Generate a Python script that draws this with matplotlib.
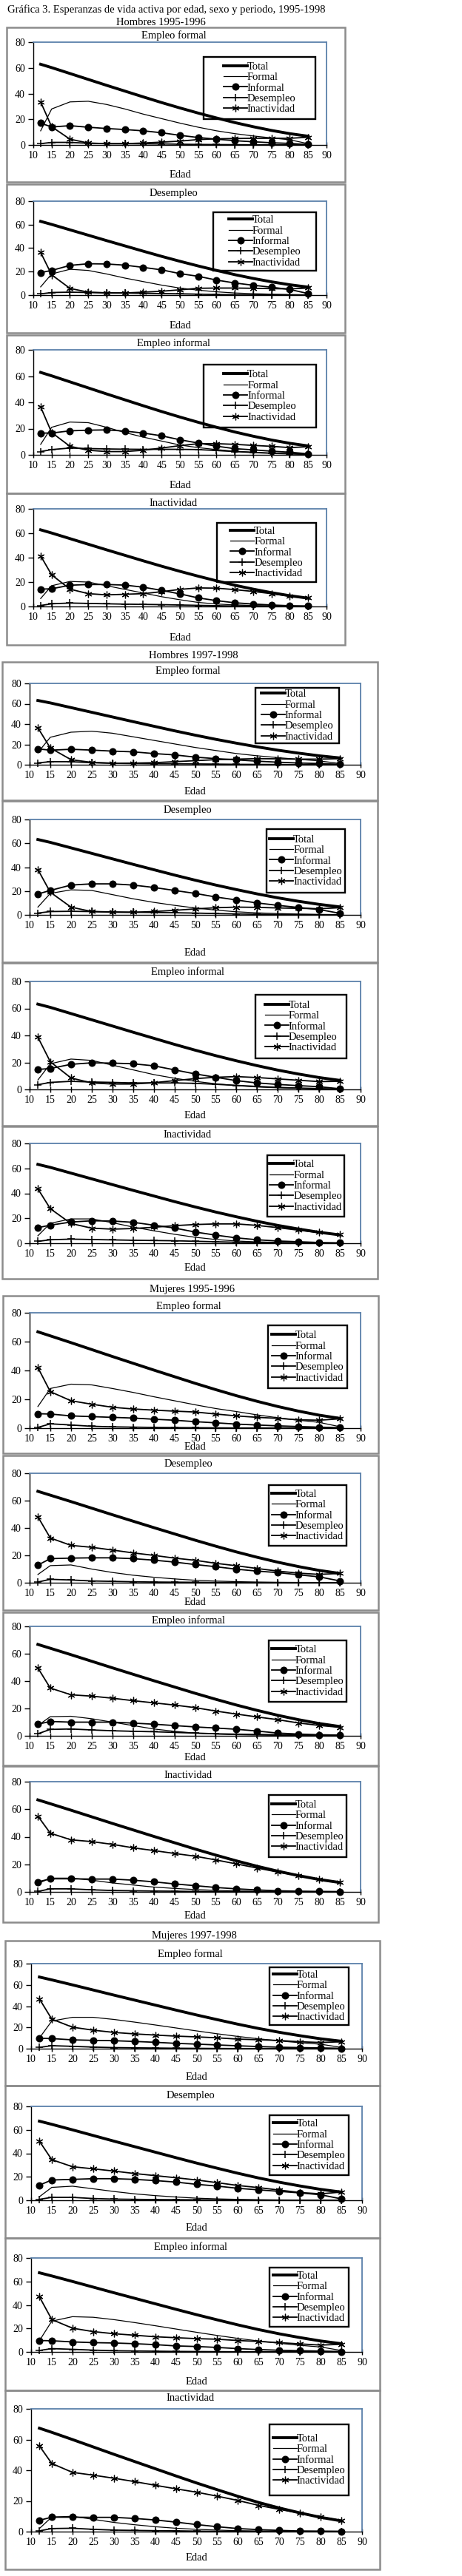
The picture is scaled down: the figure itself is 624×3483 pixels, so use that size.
import matplotlib
matplotlib.use('Agg')
import matplotlib.pyplot as plt
from matplotlib.patches import Rectangle

plt.rcParams['font.family'] = ['Liberation Serif', 'DejaVu Serif']

edad = [12, 15, 20, 25, 30, 35, 40, 45, 50, 55, 60, 65, 70, 75, 80, 85]
series_labels = ['Total', 'Formal', 'Informal', 'Desempleo', 'Inactividad']
panel_titles = ['Empleo formal', 'Desempleo', 'Empleo informal', 'Inactividad']
block_titles = ['Hombres 1995-1996', 'Hombres 1997-1998', 'Mujeres 1995-1996', 'Mujeres 1997-1998']

# total life expectancy per block
tot_h95 = [62.8, 60.2, 55.6, 51.0, 46.4, 41.9, 37.4, 33.0, 28.8, 24.8, 21.0, 17.4, 14.2, 11.3, 8.8, 6.8]
tot_h97 = [63.2, 60.8, 56.2, 51.6, 47.0, 42.4, 37.9, 33.4, 29.1, 25.0, 21.2, 17.6, 14.3, 11.4, 8.8, 6.7]
tot_m95 = [66.8, 64.0, 59.3, 54.5, 49.7, 45.0, 40.3, 35.7, 31.1, 26.7, 22.5, 18.6, 15.0, 11.8, 9.0, 6.8]
tot_m97 = [67.4, 64.7, 60.0, 55.2, 50.4, 45.7, 41.0, 36.3, 31.7, 27.3, 23.0, 19.0, 15.4, 12.2, 9.3, 7.0]

# Hombres 1995-1996
p1_formal = [11.0, 28.0, 33.5, 34.0, 31.5, 28.0, 24.0, 20.5, 17.0, 13.8, 11.0, 8.8, 7.0, 5.5, 4.0, 1.0]
p1_informal = [17.0, 14.0, 15.0, 13.8, 12.8, 12.0, 11.0, 9.5, 7.5, 5.8, 4.5, 3.3, 2.5, 1.7, 1.2, 0.3]
p1_desemp = [1.0, 2.0, 2.0, 1.3, 1.0, 1.0, 0.9, 0.8, 0.6, 0.4, 0.3, 0.2, 0.1, 0.1, 0.1, 0.1]
p1_inact = [33.5, 14.2, 4.5, 1.5, 1.0, 1.0, 1.5, 2.2, 3.0, 4.2, 4.8, 5.0, 5.2, 5.2, 5.2, 6.0]

p2_formal = [7.0, 18.0, 22.0, 21.0, 18.0, 14.5, 11.5, 8.5, 6.0, 4.2, 2.8, 1.8, 1.2, 0.8, 0.5, 0.2]
p2_informal = [19.2, 21.0, 25.3, 26.7, 26.5, 25.5, 23.6, 21.5, 18.3, 16.0, 12.8, 10.3, 8.4, 6.7, 4.8, 1.3]
p2_desemp = [1.0, 2.2, 2.5, 2.2, 2.0, 1.8, 1.5, 1.3, 1.1, 0.8, 0.5, 0.3, 0.2, 0.1, 0.1, 0.1]
p2_inact = [36.4, 17.3, 5.7, 2.5, 1.8, 1.8, 2.5, 3.3, 4.5, 5.8, 6.0, 6.0, 5.8, 5.5, 5.3, 6.0]

p3_formal = [8.0, 21.0, 25.0, 24.5, 21.0, 17.0, 13.5, 10.5, 7.5, 5.5, 4.0, 2.8, 2.0, 1.3, 0.8, 0.3]
p3_informal = [16.6, 16.6, 18.3, 18.8, 19.0, 18.1, 16.6, 14.5, 11.5, 9.0, 6.6, 4.7, 3.8, 2.8, 2.0, 0.8]
p3_desemp = [2.5, 4.0, 5.2, 4.8, 4.5, 4.3, 4.2, 4.2, 4.2, 4.0, 3.3, 2.5, 1.8, 1.2, 0.8, 0.3]
p3_inact = [36.5, 17.0, 6.5, 3.5, 2.5, 2.5, 3.5, 5.2, 7.0, 8.5, 8.5, 8.0, 7.2, 6.5, 5.5, 6.2]

p4_formal = [6.5, 17.0, 20.5, 20.0, 17.0, 14.0, 11.0, 8.0, 5.5, 3.3, 2.0, 1.3, 0.8, 0.5, 0.3, 0.1]
p4_informal = [14.2, 14.5, 17.4, 18.0, 18.0, 17.5, 15.8, 13.2, 10.3, 7.0, 4.8, 3.0, 2.0, 1.2, 0.6, 0.4]
p4_desemp = [0.8, 2.2, 2.8, 2.5, 2.2, 1.9, 1.7, 1.5, 1.2, 0.9, 0.6, 0.4, 0.3, 0.2, 0.1, 0.1]
p4_inact = [41.5, 25.9, 14.2, 10.5, 9.5, 10.0, 10.5, 12.1, 14.0, 15.2, 15.0, 13.8, 12.3, 10.5, 8.5, 7.0]

# Hombres 1997-1998
p5_formal = [12.0, 27.0, 32.0, 33.0, 31.0, 27.5, 24.0, 20.5, 17.0, 14.0, 11.0, 8.8, 7.0, 5.3, 3.8, 1.2]
p5_informal = [15.6, 14.3, 15.2, 14.4, 13.4, 12.7, 11.0, 9.7, 7.5, 6.0, 4.8, 3.5, 2.5, 1.7, 1.2, 0.4]
p5_desemp = [1.8, 3.0, 3.0, 2.0, 1.5, 1.2, 1.0, 0.9, 0.8, 0.6, 0.4, 0.3, 0.2, 0.1, 0.1, 0.1]
p5_inact = [36.3, 16.5, 5.0, 2.3, 1.5, 1.6, 2.0, 3.0, 4.0, 5.0, 5.5, 6.0, 5.8, 5.5, 5.5, 6.0]

p6_formal = [6.5, 18.0, 21.0, 20.5, 17.0, 13.5, 10.5, 8.0, 5.8, 4.0, 2.6, 1.7, 1.1, 0.7, 0.4, 0.2]
p6_informal = [17.5, 20.5, 25.0, 26.0, 26.0, 25.0, 23.0, 20.5, 18.0, 15.0, 12.5, 10.0, 8.0, 6.2, 4.5, 1.3]
p6_desemp = [1.5, 2.8, 3.0, 2.8, 2.5, 2.2, 2.0, 1.8, 1.5, 1.1, 0.8, 0.5, 0.3, 0.2, 0.1, 0.1]
p6_inact = [38.0, 19.0, 6.5, 2.8, 2.2, 2.2, 2.8, 3.8, 5.0, 6.0, 6.5, 6.3, 5.8, 5.5, 5.2, 6.0]

p7_formal = [7.0, 19.0, 22.5, 21.5, 18.0, 14.5, 11.0, 8.3, 6.0, 4.2, 2.8, 1.8, 1.2, 0.8, 0.5, 0.2]
p7_informal = [14.8, 15.5, 18.6, 19.7, 19.5, 19.0, 17.5, 14.5, 11.5, 9.0, 6.5, 4.8, 3.7, 2.8, 2.0, 0.5]
p7_desemp = [3.5, 5.2, 6.0, 5.5, 5.2, 4.8, 4.8, 4.8, 4.5, 3.8, 3.0, 2.2, 1.5, 1.0, 0.6, 0.2]
p7_inact = [38.7, 20.5, 8.5, 4.8, 4.0, 4.0, 5.0, 6.5, 8.0, 9.0, 9.5, 8.8, 7.8, 6.8, 5.8, 6.0]

p8_formal = [6.0, 16.0, 19.5, 19.5, 16.5, 13.0, 10.0, 7.2, 4.8, 3.0, 1.8, 1.1, 0.7, 0.4, 0.2, 0.1]
p8_informal = [12.5, 14.5, 17.0, 18.0, 17.8, 16.8, 14.5, 12.2, 9.0, 6.5, 4.3, 2.8, 1.8, 1.2, 0.6, 0.3]
p8_desemp = [1.5, 2.8, 3.3, 3.0, 2.7, 2.4, 2.2, 2.0, 1.6, 1.2, 0.8, 0.5, 0.3, 0.2, 0.1, 0.1]
p8_inact = [43.6, 27.7, 15.8, 12.1, 11.3, 11.8, 12.8, 14.1, 15.0, 15.5, 15.5, 14.3, 12.5, 10.5, 8.6, 7.0]

# Mujeres 1995-1996
p9_formal = [15.0, 27.5, 30.5, 30.0, 27.5, 24.8, 21.8, 19.0, 16.2, 13.6, 11.5, 9.2, 7.2, 5.5, 4.0, 1.0]
p9_informal = [10.0, 9.8, 8.5, 8.0, 7.5, 7.0, 6.2, 5.5, 4.5, 3.7, 2.8, 2.2, 1.6, 1.1, 0.7, 0.3]
p9_desemp = [0.5, 3.0, 2.2, 1.3, 0.9, 0.7, 0.5, 0.4, 0.3, 0.2, 0.1, 0.1, 0.1, 0.1, 0.1, 0.1]
p9_inact = [42.0, 25.3, 19.0, 16.6, 14.5, 13.3, 12.5, 11.8, 11.2, 9.8, 8.5, 7.5, 6.8, 5.8, 5.5, 6.5]

p10_formal = [6.0, 12.5, 13.0, 10.0, 7.5, 5.5, 4.0, 2.8, 1.8, 1.2, 0.8, 0.5, 0.3, 0.2, 0.1, 0.1]
p10_informal = [12.9, 17.6, 18.0, 18.2, 18.2, 17.6, 16.5, 15.1, 13.3, 11.7, 9.9, 8.5, 7.4, 5.8, 4.3, 1.3]
p10_desemp = [0.5, 2.5, 2.0, 1.3, 1.0, 0.7, 0.5, 0.4, 0.3, 0.2, 0.1, 0.1, 0.1, 0.1, 0.1, 0.1]
p10_inact = [48.2, 32.7, 27.3, 25.9, 23.9, 21.8, 20.0, 18.0, 16.4, 14.2, 12.4, 10.4, 8.5, 7.0, 6.1, 6.8]

p11_formal = [7.5, 14.0, 14.3, 12.5, 10.0, 7.5, 5.0, 3.3, 2.0, 1.3, 0.8, 0.5, 0.3, 0.2, 0.1, 0.1]
p11_informal = [8.5, 10.5, 10.0, 10.0, 10.0, 9.3, 8.5, 7.5, 6.5, 5.7, 4.8, 3.5, 2.0, 1.3, 0.8, 0.5]
p11_desemp = [1.5, 4.7, 5.0, 4.3, 3.7, 3.3, 3.0, 2.5, 2.0, 1.5, 1.2, 1.0, 0.8, 0.6, 0.5, 0.3]
p11_inact = [49.6, 34.9, 30.0, 29.0, 27.5, 25.7, 24.1, 22.5, 20.6, 18.1, 15.9, 13.8, 11.8, 9.4, 7.6, 6.2]

p12_formal = [6.0, 10.0, 10.0, 8.5, 6.5, 5.0, 3.5, 2.5, 1.7, 1.1, 0.7, 0.4, 0.3, 0.2, 0.1, 0.1]
p12_informal = [7.2, 9.5, 9.5, 9.3, 9.3, 8.5, 7.3, 5.8, 4.5, 3.2, 2.2, 1.4, 0.8, 0.5, 0.3, 0.2]
p12_desemp = [0.3, 2.2, 2.2, 1.5, 1.0, 0.8, 0.6, 0.5, 0.3, 0.2, 0.1, 0.1, 0.1, 0.1, 0.1, 0.1]
p12_inact = [55.0, 42.6, 37.8, 36.5, 34.5, 32.0, 30.0, 27.9, 25.9, 23.2, 20.3, 17.3, 14.4, 11.9, 9.0, 7.0]

# Mujeres 1997-1998
p13_formal = [10.0, 26.0, 29.5, 29.5, 27.5, 25.0, 22.3, 19.5, 16.7, 14.0, 11.5, 9.3, 7.3, 5.6, 4.2, 1.2]
p13_informal = [9.8, 9.5, 8.3, 7.8, 7.5, 6.8, 6.0, 5.0, 4.3, 3.5, 2.7, 2.0, 1.4, 1.0, 0.7, 0.3]
p13_desemp = [1.2, 2.8, 2.2, 1.5, 1.0, 0.8, 0.6, 0.4, 0.3, 0.2, 0.1, 0.1, 0.1, 0.1, 0.1, 0.1]
p13_inact = [46.9, 27.8, 20.2, 17.4, 15.3, 13.9, 12.8, 11.8, 11.1, 10.2, 9.0, 8.4, 7.7, 6.5, 5.8, 6.5]

p14_formal = [3.0, 11.0, 12.0, 9.8, 7.5, 5.5, 4.0, 2.8, 1.8, 1.2, 0.8, 0.5, 0.3, 0.2, 0.1, 0.1]
p14_informal = [12.9, 17.3, 17.8, 18.4, 18.4, 17.8, 16.8, 15.5, 13.6, 12.1, 10.2, 8.9, 7.6, 6.3, 4.7, 1.2]
p14_desemp = [0.8, 2.5, 2.5, 1.5, 1.0, 0.8, 0.6, 0.5, 0.4, 0.3, 0.2, 0.1, 0.1, 0.1, 0.1, 0.1]
p14_inact = [50.4, 34.6, 28.6, 26.8, 24.9, 22.8, 21.0, 19.2, 17.3, 15.0, 12.6, 10.8, 8.7, 6.6, 5.5, 7.0]

p15_formal = [9.5, 26.2, 30.0, 29.5, 27.5, 25.0, 22.3, 19.5, 16.7, 14.0, 11.5, 9.3, 7.3, 5.6, 4.2, 1.2]
p15_informal = [9.7, 9.5, 8.5, 7.9, 7.6, 7.0, 6.2, 5.1, 4.6, 3.8, 2.8, 2.0, 1.4, 1.0, 0.7, 0.3]
p15_desemp = [1.2, 2.8, 2.2, 1.5, 1.0, 0.8, 0.6, 0.4, 0.3, 0.2, 0.1, 0.1, 0.1, 0.1, 0.1, 0.1]
p15_inact = [47.0, 27.6, 20.2, 17.3, 15.5, 14.2, 12.9, 12.1, 11.3, 10.8, 9.7, 8.9, 7.9, 6.8, 5.8, 6.5]

p16_formal = [2.0, 9.5, 10.0, 8.0, 6.0, 4.5, 3.2, 2.2, 1.5, 1.0, 0.6, 0.4, 0.3, 0.2, 0.1, 0.1]
p16_informal = [7.4, 9.4, 9.4, 9.3, 9.3, 8.6, 7.6, 6.2, 4.6, 3.2, 2.0, 1.3, 0.8, 0.4, 0.3, 0.2]
p16_desemp = [0.5, 2.0, 2.2, 1.5, 1.0, 0.8, 0.6, 0.5, 0.3, 0.2, 0.1, 0.1, 0.1, 0.1, 0.1, 0.1]
p16_inact = [55.9, 44.4, 38.6, 36.8, 34.8, 32.6, 30.2, 27.9, 25.7, 23.1, 20.3, 17.1, 14.5, 12.1, 9.6, 7.2]

W, H = 624, 3483
fig = plt.figure(figsize=(W / 100, H / 100), dpi=100)
fig.patch.set_facecolor('white')

GRAY = '#8c8c8c'
BLUE = '#5b80aa'


def fx(x):
    return x / W


def fy(y):
    return 1 - y / H


def frame(x0, y0, x1, y1, color, lw):
    fig.add_artist(Rectangle((fx(x0), fy(y1)), (x1 - x0) / W, (y1 - y0) / H,
                             transform=fig.transFigure, fill=False,
                             edgecolor=color, linewidth=lw, zorder=5))


def panel(box, plot, title_y, edad_y, leg, title, total, formal, informal, desemp, inact):
    bx0, by0, bx1, by1 = box
    frame(bx0, by0, bx1, by1, GRAY, 1.8)
    px0, py0, px1, py1 = plot
    ax = fig.add_axes([fx(px0), fy(py1), (px1 - px0) / W, (py1 - py0) / H])

    l_tot, = ax.plot(edad, total, color='black', lw=2.8, clip_on=False)
    l_for, = ax.plot(edad, formal, color='black', lw=0.9, clip_on=False)
    l_inf, = ax.plot(edad, informal, color='black', lw=1.3, marker='o', ms=6.2, clip_on=False)
    l_des, = ax.plot(edad, desemp, color='black', lw=1.3, marker='+', ms=6.5, mew=1.1, clip_on=False)
    l_ina, = ax.plot(edad, inact, color='black', lw=1.3, marker=(6, 2, 0), ms=7, mew=0.9, clip_on=False)

    ax.set_xlim(10, 90)
    ax.set_ylim(0, 80)
    ax.set_xticks(range(10, 91, 5))
    ax.set_yticks(range(0, 81, 20))
    for s in ['left', 'bottom']:
        ax.spines[s].set_color('black')
        ax.spines[s].set_linewidth(1.0)
    for s in ['top', 'right']:
        ax.spines[s].set_color(BLUE)
        ax.spines[s].set_linewidth(1.3)
    ax.tick_params(axis='x', direction='inout', length=6, width=1, pad=3, labelsize=10)
    ax.tick_params(axis='y', direction='out', length=5, width=1, pad=3, labelsize=10)

    fig.text(fx((bx0 + bx1) / 2 - 3), fy(title_y), title, ha='center', va='center', fontsize=10.5)
    fig.text(fx((px0 + px1) / 2), fy(edad_y), 'Edad', ha='center', va='center', fontsize=10.5)

    lx0, ly0, lx1, ly1 = leg
    frame(lx0, ly0, lx1, ly1, 'black', 1.7)
    ax.legend([l_tot, l_for, l_inf, l_des, l_ina], series_labels,
              loc='center', bbox_to_anchor=(fx((lx0 + lx1) / 2), fy((ly0 + ly1) / 2)),
              bbox_transform=fig.transFigure, frameon=False, fontsize=10.5,
              handlelength=2.2, handletextpad=0.0, labelspacing=0.08,
              borderpad=0.0, numpoints=1)


fig.text(fx(10), fy(13), 'Gráfica 3. Esperanzas de vida activa por edad, sexo y periodo, 1995-1998',
         ha='left', va='center', fontsize=10.5)
header_pos = [(217, 30), (261, 887), (259, 1743), (262, 2617)]
for (hx, hy), txt in zip(header_pos, block_titles):
    fig.text(fx(hx), fy(hy), txt, ha='center', va='center', fontsize=10.5)

# layout in pixels: box, plot area, title y, Edad y, legend box
layout = [
    ((9, 37, 466, 246), (45, 57, 441, 196), 48, 236, (275, 77, 426, 161)),
    ((9, 249, 466, 450), (45, 272, 441, 399), 262, 440, (288, 287, 427, 366)),
    ((9, 453, 466, 667), (45, 473, 441, 615), 464, 657, (275, 493, 427, 578)),
    ((9, 667, 466, 872), (45, 688, 441, 820), 681, 862, (293, 707, 427, 787)),
    ((3, 895, 510, 1082), (40, 924, 487, 1034), 907, 1070, (345, 930, 458, 1005)),
    ((3, 1083, 510, 1301), (40, 1108, 487, 1237), 1095, 1289, (360, 1121, 466, 1207)),
    ((3, 1302, 510, 1522), (40, 1327, 487, 1473), 1314, 1508, (345, 1345, 468, 1431)),
    ((3, 1523, 510, 1729), (40, 1546, 487, 1681), 1534, 1714, (361, 1562, 465, 1645)),
    ((4, 1752, 511, 1965), (40, 1775, 487, 1931), 1766, 1957, (362, 1792, 469, 1877)),
    ((4, 1968, 511, 2177), (40, 1992, 487, 2140), 1979, 2167, (363, 2008, 468, 2090)),
    ((4, 2180, 511, 2387), (40, 2199, 487, 2347), 2191, 2377, (363, 2218, 468, 2301)),
    ((4, 2388, 511, 2599), (40, 2409, 487, 2558), 2400, 2590, (363, 2427, 468, 2511)),
    ((7, 2624, 513, 2820), (42, 2655, 489, 2770), 2642, 2808, (364, 2660, 471, 2738)),
    ((7, 2820, 513, 3026), (42, 2848, 489, 2975), 2834, 3012, (364, 2860, 471, 2941)),
    ((7, 3026, 513, 3232), (42, 3053, 489, 3180), 3038, 3221, (364, 3066, 471, 3146)),
    ((7, 3232, 513, 3474), (42, 3257, 489, 3423), 3243, 3459, (364, 3278, 471, 3374)),
]

totals = [tot_h95] * 4 + [tot_h97] * 4 + [tot_m95] * 4 + [tot_m97] * 4
formals = [p1_formal, p2_formal, p3_formal, p4_formal, p5_formal, p6_formal, p7_formal, p8_formal,
           p9_formal, p10_formal, p11_formal, p12_formal, p13_formal, p14_formal, p15_formal, p16_formal]
informals = [p1_informal, p2_informal, p3_informal, p4_informal, p5_informal, p6_informal, p7_informal,
             p8_informal, p9_informal, p10_informal, p11_informal, p12_informal, p13_informal,
             p14_informal, p15_informal, p16_informal]
desemps = [p1_desemp, p2_desemp, p3_desemp, p4_desemp, p5_desemp, p6_desemp, p7_desemp, p8_desemp,
           p9_desemp, p10_desemp, p11_desemp, p12_desemp, p13_desemp, p14_desemp, p15_desemp, p16_desemp]
inacts = [p1_inact, p2_inact, p3_inact, p4_inact, p5_inact, p6_inact, p7_inact, p8_inact,
          p9_inact, p10_inact, p11_inact, p12_inact, p13_inact, p14_inact, p15_inact, p16_inact]

for i, (box, plot, ty, ey, leg) in enumerate(layout):
    panel(box, plot, ty, ey, leg, panel_titles[i % 4], totals[i], formals[i],
          informals[i], desemps[i], inacts[i])

plt.savefig('out.png', dpi=100)
